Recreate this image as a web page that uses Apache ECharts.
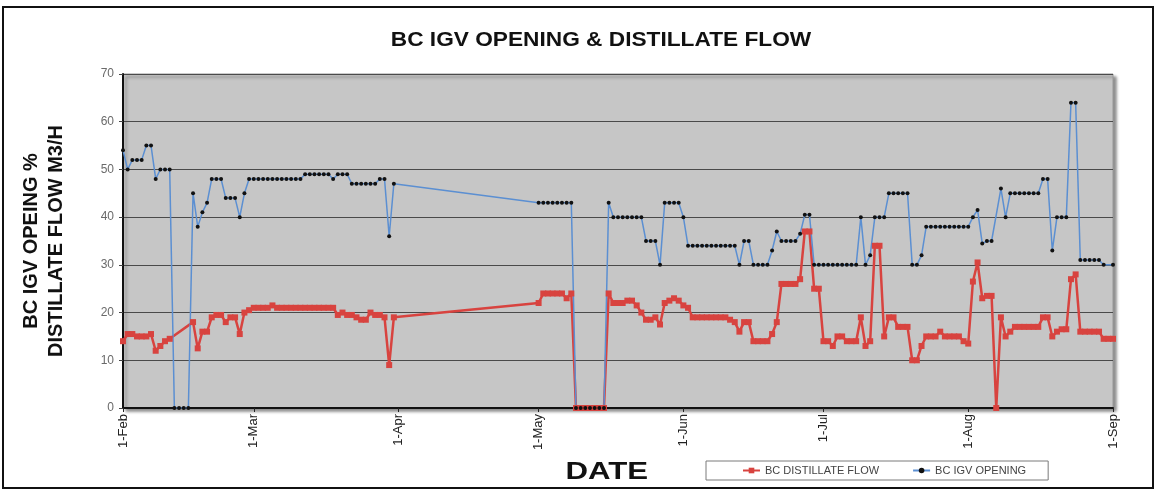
<!DOCTYPE html>
<html>
<head>
<meta charset="utf-8">
<script src="https://cdn.jsdelivr.net/npm/echarts@6.0.0/dist/echarts.min.js"></script>
<style>
  html, body { margin: 0; padding: 0; background: #fff; }
  #chart { width: 1157px; height: 492px; }
</style>
</head>
<body>
<div id="chart"></div>
<script>
// dates of the readings (2009), one entry per reading
const dates = [
  '02-01','02-02','02-03','02-04','02-05','02-06','02-07','02-08','02-09','02-10','02-11','02-12','02-13','02-14',
  '02-15','02-16','02-17','02-18','02-19','02-20','02-21','02-22','02-23','02-24','02-25','02-26','02-27','02-28',
  '03-01','03-02','03-03','03-04','03-05','03-06','03-07','03-08','03-09','03-10','03-11','03-12','03-13','03-14',
  '03-15','03-16','03-17','03-18','03-19','03-20','03-21','03-22','03-23','03-24','03-25','03-26','03-27','03-28',
  '03-29','03-30','03-31',
  '05-01','05-02','05-03','05-04','05-05','05-06','05-07','05-08','05-09','05-10','05-11','05-12','05-13','05-14',
  '05-15','05-16','05-17','05-18','05-19','05-20','05-21','05-22','05-23','05-24','05-25','05-26','05-27','05-28',
  '05-29','05-30','05-31',
  '06-01','06-02','06-03','06-04','06-05','06-06','06-07','06-08','06-09','06-10','06-11','06-12','06-13','06-14',
  '06-15','06-16','06-17','06-18','06-19','06-20','06-21','06-22','06-23','06-24','06-25','06-26','06-27','06-28',
  '06-29','06-30',
  '07-01','07-02','07-03','07-04','07-05','07-06','07-07','07-08','07-09','07-10','07-11','07-12','07-13','07-14',
  '07-15','07-16','07-17','07-18','07-19','07-20','07-21','07-22','07-23','07-24','07-25','07-26','07-27','07-28',
  '07-29','07-30','07-31',
  '08-01','08-02','08-03','08-04','08-05','08-06','08-07','08-08','08-09','08-10','08-11','08-12','08-13','08-14',
  '08-15','08-16','08-17','08-18','08-19','08-20','08-21','08-22','08-23','08-24','08-25','08-26','08-27','08-28',
  '08-29','08-30','08-31','09-01'
];

// BC DISTILLATE FLOW (M3/H)
const distillateFlow = [
  14, 15.5, 15.5, 15, 15, 15, 15.5, 12, 13, 14, 14.5, null, null, null,
  null, 18, 12.5, 16, 16, 19, 19.5, 19.5, 18, 19, 19, 15.5, 20, 20.5,
  21, 21, 21, 21, 21.5, 21, 21, 21, 21, 21, 21, 21, 21, 21,
  21, 21, 21, 21, 19.5, 20, 19.5, 19.5, 19, 18.5, 18.5, 20, 19.5, 19.5,
  19, 9, 19,
  22, 24, 24, 24, 24, 24, 23, 24, 0, 0, 0, 0, 0, 0,
  0, 24, 22, 22, 22, 22.5, 22.5, 21.5, 20, 18.5, 18.5, 19, 17.5, 22,
  22.5, 23, 22.5,
  21.5, 21, 19, 19, 19, 19, 19, 19, 19, 19, 18.5, 18, 16, 18,
  18, 14, 14, 14, 14, 15.5, 18, 26, 26, 26, 26, 27, 37, 37,
  25, 25,
  14, 14, 13, 15, 15, 14, 14, 14, 19, 13, 14, 34, 34, 15,
  19, 19, 17, 17, 17, 10, 10, 13, 15, 15, 15, 16, 15, 15,
  15, 15, 14,
  13.5, 26.5, 30.5, 23, 23.5, 23.5, 0, 19, 15, 16, 17, 17, 17, 17,
  17, 17, 19, 19, 15, 16, 16.5, 16.5, 27, 28, 16, 16, 16, 16,
  16, 14.5, 14.5, 14.5
];

// BC IGV OPENING (%)
const igvOpening = [
  54, 50, 52, 52, 52, 55, 55, 48, 50, 50, 50, 0, 0, 0,
  0, 45, 38, 41, 43, 48, 48, 48, 44, 44, 44, 40, 45, 48,
  48, 48, 48, 48, 48, 48, 48, 48, 48, 48, 48, 49, 49, 49,
  49, 49, 49, 48, 49, 49, 49, 47, 47, 47, 47, 47, 47, 48,
  48, 36, 47,
  43, 43, 43, 43, 43, 43, 43, 43, 0, 0, 0, 0, 0, 0,
  0, 43, 40, 40, 40, 40, 40, 40, 40, 35, 35, 35, 30, 43,
  43, 43, 43,
  40, 34, 34, 34, 34, 34, 34, 34, 34, 34, 34, 34, 30, 35,
  35, 30, 30, 30, 30, 33, 37, 35, 35, 35, 35, 36.5, 40.5, 40.5,
  30, 30,
  30, 30, 30, 30, 30, 30, 30, 30, 40, 30, 32, 40, 40, 40,
  45, 45, 45, 45, 45, 30, 30, 32, 38, 38, 38, 38, 38, 38,
  38, 38, 38,
  38, 40, 41.5, 34.5, 35, 35, null, 46, 40, 45, 45, 45, 45, 45,
  45, 45, 48, 48, 33, 40, 40, 40, 64, 64, 31, 31, 31, 31,
  31, 30, null, 30
];

const monthTicks = ['2009-02-01', '2009-03-01', '2009-04-01', '2009-05-01', '2009-06-01', '2009-07-01', '2009-08-01', '2009-09-01'];
const tickLabels = ['1-Feb', '1-Mar', '1-Apr', '1-May', '1-Jun', '1-Jul', '1-Aug', '1-Sep'];
const yTicks = [0, 10, 20, 30, 40, 50, 60, 70];

const YEAR = '2009-';
const toTime = (s) => Date.UTC(+s.slice(0, 4), +s.slice(5, 7) - 1, +s.slice(8, 10));
const tickTimes = monthTicks.map(toTime);

const myChart = echarts.init(document.getElementById('chart'));

const option = {
  animation: false,
  backgroundColor: '#ffffff',
  textStyle: { fontFamily: 'Liberation Sans, Arial, sans-serif' },
  grid: {
    left: 123,
    right: 44,
    top: 74,
    bottom: 84,
    show: true,
    backgroundColor: '#c6c6c6',
    borderColor: '#9a9a9a',
    borderWidth: 1,
    shadowColor: 'rgba(0,0,0,0.45)',
    shadowBlur: 3,
    shadowOffsetX: 3,
    shadowOffsetY: 3
  },
  legend: {
    left: 706,
    top: 461,
    orient: 'horizontal',
    padding: [4, 22, 4, 36],
    itemWidth: 17,
    itemHeight: 7,
    itemGap: 33,
    borderColor: '#7a7a7a',
    borderWidth: 1,
    backgroundColor: '#fff',
    textStyle: { fontSize: 11, color: '#444', fontFamily: 'Liberation Sans, Arial, sans-serif' },
    data: ['BC DISTILLATE FLOW', 'BC IGV OPENING']
  },
  xAxis: {
    type: 'value',
    min: tickTimes[0],
    max: tickTimes[tickTimes.length - 1],
    axisLine: { show: true, onZero: false, lineStyle: { color: '#111', width: 2 } },
    axisTick: {
      show: true,
      customValues: tickTimes,
      length: 4,
      lineStyle: { color: '#222' }
    },
    axisLabel: {
      customValues: tickTimes,
      rotate: 90,
      margin: 6,
      fontSize: 13,
      color: '#222',
      formatter: (v) => tickLabels[tickTimes.indexOf(v)] || ''
    },
    splitLine: { show: false }
  },
  yAxis: {
    type: 'value',
    min: yTicks[0],
    max: yTicks[yTicks.length - 1],
    interval: 10,
    name: 'BC IGV OPEING %\nDISTILLATE FLOW M3/H',
    nameLocation: 'middle',
    nameRotate: 90,
    nameGap: 54,
    nameTextStyle: {
      fontSize: 20,
      fontWeight: 'bold',
      color: '#111',
      lineHeight: 25,
      fontFamily: 'Liberation Sans, Arial, sans-serif'
    },
    axisLine: { show: true, lineStyle: { color: '#111', width: 2 } },
    axisTick: { show: true, length: 4, lineStyle: { color: '#444' } },
    axisLabel: { fontSize: 12, color: '#6a6a6a', margin: 9 },
    splitLine: { show: true, lineStyle: { color: '#4a4a4a', width: 1 } }
  },
  graphic: [
    {
      type: 'rect',
      silent: true,
      z: 100,
      shape: { x: 3, y: 7, width: 1150, height: 481 },
      style: { fill: 'none', stroke: '#111', lineWidth: 2 }
    },
    {
      type: 'text',
      x: 601,
      y: 40,
      scaleX: 1.08,
      style: {
        text: 'BC IGV OPENING & DISTILLATE FLOW',
        font: 'bold 21px "Liberation Sans", Arial, sans-serif',
        fill: '#111',
        align: 'center',
        verticalAlign: 'middle'
      }
    },
    {
      type: 'text',
      x: 648,
      y: 484,
      scaleX: 1.3,
      style: {
        text: 'DATE',
        font: 'bold 24px "Liberation Sans", Arial, sans-serif',
        fill: '#111',
        align: 'right',
        verticalAlign: 'bottom'
      }
    }
  ],
  series: [
    {
      name: 'BC DISTILLATE FLOW',
      type: 'line',
      connectNulls: true,
      symbol: 'rect',
      symbolSize: 6,
      itemStyle: { color: '#d8433f' },
      lineStyle: { color: '#d8433f', width: 2.5 },
      data: dates.map((d, i) => [toTime(YEAR + d), distillateFlow[i]])
    },
    {
      name: 'BC IGV OPENING',
      type: 'line',
      connectNulls: true,
      symbol: 'circle',
      symbolSize: 4,
      itemStyle: { color: '#111' },
      lineStyle: { color: '#5b8fd2', width: 1.5 },
      data: dates.map((d, i) => [toTime(YEAR + d), igvOpening[i]])
    }
  ]
};

myChart.setOption(option);
</script>
</body>
</html>
